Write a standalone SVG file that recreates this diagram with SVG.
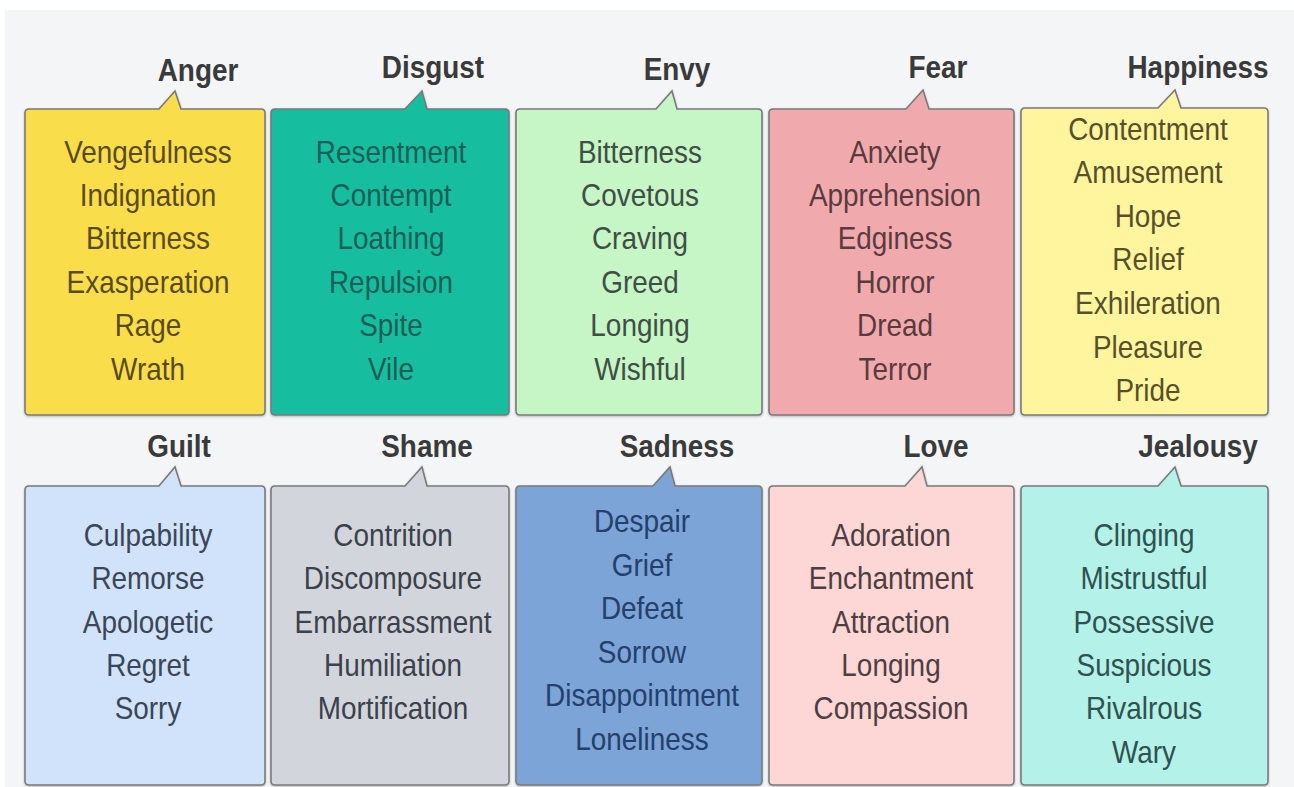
<svg xmlns="http://www.w3.org/2000/svg" width="1294" height="787" viewBox="0 0 1294 787">
<defs>
<style>
.box{stroke:#7a7a7a;stroke-width:1.6;}
.t{font-family:"Liberation Sans",Arial,sans-serif;font-size:31px;font-weight:bold;fill:#3a3a3a;text-anchor:middle;}
.b{font-family:"Liberation Sans",Arial,sans-serif;font-size:31px;text-anchor:middle;}
</style>
<filter id="sh" x="-5%" y="-5%" width="110%" height="110%">
<feDropShadow dx="0" dy="1" stdDeviation="1" flood-color="#000" flood-opacity="0.25"/>
</filter>
</defs>
<rect x="0" y="0" width="1294" height="787" fill="#ffffff"/>
<rect x="5" y="10" width="1289" height="777" fill="#f4f5f7"/>
<g id="connectors"></g>

<g id="anger">
<path class="box" filter="url(#sh)" fill="#fadd4b" d="M29,109 H159 L175,91 L181,109 H261 Q265,109 265,113 V411 Q265,415 261,415 H29 Q25,415 25,411 V113 Q25,109 29,109 Z"/>
<g transform="translate(198 0) scale(0.9 1)"><text class="t" x="0" y="81">Anger</text></g>
<g transform="translate(148 0) scale(0.9 1)" fill="#5a4b1c">
<text class="b" x="0" y="163">Vengefulness</text>
<text class="b" x="0" y="206">Indignation</text>
<text class="b" x="0" y="249">Bitterness</text>
<text class="b" x="0" y="293">Exasperation</text>
<text class="b" x="0" y="336">Rage</text>
<text class="b" x="0" y="380">Wrath</text>
</g>
</g>

<g id="disgust">
<path class="box" filter="url(#sh)" fill="#16bd9f" d="M275,109 H405 L422,91 L427,109 H505 Q509,109 509,113 V411 Q509,415 505,415 H275 Q271,415 271,411 V113 Q271,109 275,109 Z"/>
<g transform="translate(433 0) scale(0.9 1)"><text class="t" x="0" y="78">Disgust</text></g>
<g transform="translate(391 0) scale(0.9 1)" fill="#1b5f58">
<text class="b" x="0" y="163">Resentment</text>
<text class="b" x="0" y="206">Contempt</text>
<text class="b" x="0" y="249">Loathing</text>
<text class="b" x="0" y="293">Repulsion</text>
<text class="b" x="0" y="336">Spite</text>
<text class="b" x="0" y="380">Vile</text>
</g>
</g>

<g id="envy">
<path class="box" filter="url(#sh)" fill="#c6f5c6" d="M520,109 H656 L672,91 L677,109 H758 Q762,109 762,113 V411 Q762,415 758,415 H520 Q516,415 516,411 V113 Q516,109 520,109 Z"/>
<g transform="translate(677 0) scale(0.9 1)"><text class="t" x="0" y="80">Envy</text></g>
<g transform="translate(640 0) scale(0.9 1)" fill="#3f4f44">
<text class="b" x="0" y="163">Bitterness</text>
<text class="b" x="0" y="206">Covetous</text>
<text class="b" x="0" y="249">Craving</text>
<text class="b" x="0" y="293">Greed</text>
<text class="b" x="0" y="336">Longing</text>
<text class="b" x="0" y="380">Wishful</text>
</g>
</g>

<g id="fear">
<path class="box" filter="url(#sh)" fill="#f0aaae" d="M773,109 H906 L923,90 L929,109 H1010 Q1014,109 1014,113 V411 Q1014,415 1010,415 H773 Q769,415 769,411 V113 Q769,109 773,109 Z"/>
<g transform="translate(938 0) scale(0.9 1)"><text class="t" x="0" y="78">Fear</text></g>
<g transform="translate(895 0) scale(0.9 1)" fill="#5a3b3d">
<text class="b" x="0" y="163">Anxiety</text>
<text class="b" x="0" y="206">Apprehension</text>
<text class="b" x="0" y="249">Edginess</text>
<text class="b" x="0" y="293">Horror</text>
<text class="b" x="0" y="336">Dread</text>
<text class="b" x="0" y="380">Terror</text>
</g>
</g>

<g id="happiness">
<path class="box" filter="url(#sh)" fill="#fff59e" d="M1025,108 H1158 L1175,90 L1181,108 H1264 Q1268,108 1268,112 V411 Q1268,415 1264,415 H1025 Q1021,415 1021,411 V112 Q1021,108 1025,108 Z"/>
<g transform="translate(1198 0) scale(0.9 1)"><text class="t" x="0" y="78">Happiness</text></g>
<g transform="translate(1148 0) scale(0.9 1)" fill="#57502a">
<text class="b" x="0" y="140">Contentment</text>
<text class="b" x="0" y="183">Amusement</text>
<text class="b" x="0" y="227">Hope</text>
<text class="b" x="0" y="270">Relief</text>
<text class="b" x="0" y="314">Exhileration</text>
<text class="b" x="0" y="358">Pleasure</text>
<text class="b" x="0" y="401">Pride</text>
</g>
</g>

<g id="guilt">
<path class="box" filter="url(#sh)" fill="#d0e3fb" d="M29,486 H159 L175,467 L181,486 H261 Q265,486 265,490 V781 Q265,785 261,785 H29 Q25,785 25,781 V490 Q25,486 29,486 Z"/>
<g transform="translate(179 0) scale(0.9 1)"><text class="t" x="0" y="457">Guilt</text></g>
<g transform="translate(148 0) scale(0.9 1)" fill="#3b4656">
<text class="b" x="0" y="546">Culpability</text>
<text class="b" x="0" y="589">Remorse</text>
<text class="b" x="0" y="633">Apologetic</text>
<text class="b" x="0" y="676">Regret</text>
<text class="b" x="0" y="719">Sorry</text>
</g>
</g>

<g id="shame">
<path class="box" filter="url(#sh)" fill="#d2d6dc" d="M275,486 H405 L422,467 L427,486 H505 Q509,486 509,490 V781 Q509,785 505,785 H275 Q271,785 271,781 V490 Q271,486 275,486 Z"/>
<g transform="translate(427 0) scale(0.9 1)"><text class="t" x="0" y="457">Shame</text></g>
<g transform="translate(393 0) scale(0.9 1)" fill="#3c414a">
<text class="b" x="0" y="546">Contrition</text>
<text class="b" x="0" y="589">Discomposure</text>
<text class="b" x="0" y="633">Embarrassment</text>
<text class="b" x="0" y="676">Humiliation</text>
<text class="b" x="0" y="719">Mortification</text>
</g>
</g>

<g id="sadness">
<path class="box" filter="url(#sh)" fill="#7ca4d7" d="M520,486 H653 L670,467 L675,486 H758 Q762,486 762,490 V781 Q762,785 758,785 H520 Q516,785 516,781 V490 Q516,486 520,486 Z"/>
<g transform="translate(677 0) scale(0.9 1)"><text class="t" x="0" y="457">Sadness</text></g>
<g transform="translate(642 0) scale(0.9 1)" fill="#24406b">
<text class="b" x="0" y="532">Despair</text>
<text class="b" x="0" y="576">Grief</text>
<text class="b" x="0" y="619">Defeat</text>
<text class="b" x="0" y="663">Sorrow</text>
<text class="b" x="0" y="706">Disappointment</text>
<text class="b" x="0" y="750">Loneliness</text>
</g>
</g>

<g id="love">
<path class="box" filter="url(#sh)" fill="#fdd6d6" d="M773,486 H905 L922,467 L927,486 H1010 Q1014,486 1014,490 V781 Q1014,785 1010,785 H773 Q769,785 769,781 V490 Q769,486 773,486 Z"/>
<g transform="translate(936 0) scale(0.9 1)"><text class="t" x="0" y="457">Love</text></g>
<g transform="translate(891 0) scale(0.9 1)" fill="#4f3e3f">
<text class="b" x="0" y="546">Adoration</text>
<text class="b" x="0" y="589">Enchantment</text>
<text class="b" x="0" y="633">Attraction</text>
<text class="b" x="0" y="676">Longing</text>
<text class="b" x="0" y="719">Compassion</text>
</g>
</g>

<g id="jealousy">
<path class="box" filter="url(#sh)" fill="#b4f1e9" d="M1025,486 H1158 L1175,467 L1181,486 H1264 Q1268,486 1268,490 V781 Q1268,785 1264,785 H1025 Q1021,785 1021,781 V490 Q1021,486 1025,486 Z"/>
<g transform="translate(1198 0) scale(0.9 1)"><text class="t" x="0" y="457">Jealousy</text></g>
<g transform="translate(1144 0) scale(0.9 1)" fill="#2f524e">
<text class="b" x="0" y="546">Clinging</text>
<text class="b" x="0" y="589">Mistrustful</text>
<text class="b" x="0" y="633">Possessive</text>
<text class="b" x="0" y="676">Suspicious</text>
<text class="b" x="0" y="719">Rivalrous</text>
<text class="b" x="0" y="763">Wary</text>
</g>
</g>
</svg>
